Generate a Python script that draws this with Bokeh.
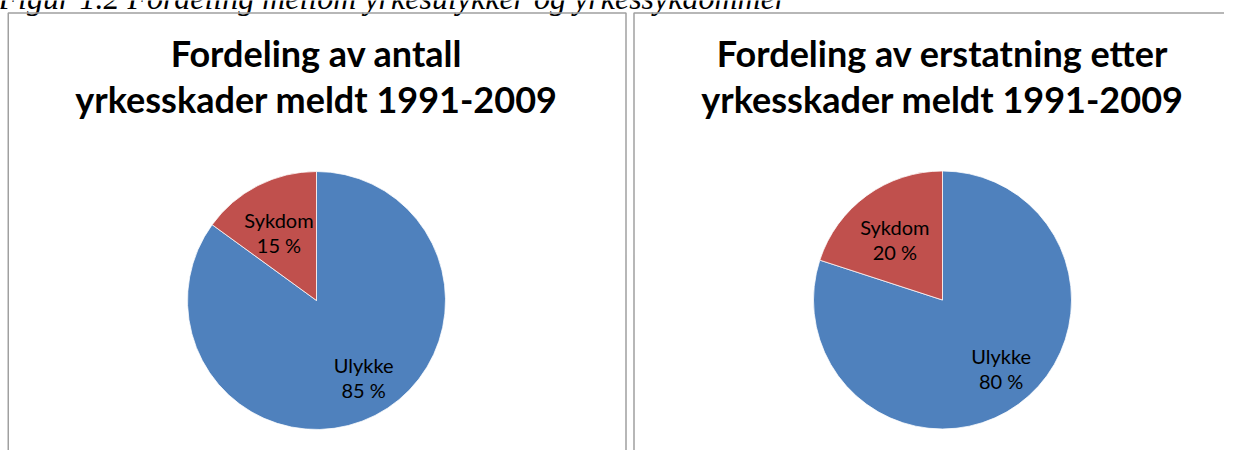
import math
from bokeh.plotting import figure
from bokeh.models import Range1d, ColumnDataSource
from bokeh.core.properties import value
from bokeh.embed import file_html
from bokeh.resources import INLINE

# ---------------- data ----------------
categories = ["Ulykke", "Sykdom"]
antall_pct = [85, 15]          # Fordeling av antall yrkesskader
erstatning_pct = [80, 20]      # Fordeling av erstatning
colors = ["#4F81BD", "#C0504D"]
title_left = ["Fordeling av antall", "yrkesskader meldt 1991-2009"]
title_right = ["Fordeling av erstatning etter", "yrkesskader meldt 1991-2009"]
caption = "Figur 1.2 Fordeling mellom yrkesulykker og yrkessykdommer"

# ---------------- layout (reference pixel coordinates) ----------------
W, H = 1240, 466
def Y(ref_y):
    return H - ref_y

p = figure(width=1224, height=450, output_backend="svg", toolbar_location=None,
           x_range=Range1d(0, 1224), y_range=Range1d(H - 450, H),
           x_axis_type=None, y_axis_type=None, min_border=0,
           outline_line_color=None, background_fill_color="white",
           border_fill_color="white")
p.grid.visible = False

# caption (cut at top, as in the reference)
p.text(x=[-2], y=[Y(-3)], text=[caption], text_font=value("Liberation Serif"),
       text_font_style="italic", text_font_size="32px", text_color="black",
       text_baseline="middle", text_align="left")

# panel borders
border_col = "#A0A0A0"
p.line(x=[7.75, 7.75, 625.5, 625.5], y=[0, Y(12.5), Y(12.5), 0],
       line_color=border_col, line_width=1.5)
p.line(x=[633.5, 633.5, 1240], y=[0, Y(12.5), Y(12.5)],
       line_color=border_col, line_width=1.5)

R = 129
panels = [
    dict(cx=316, cy=Y(300), vals=antall_pct, title=title_left),
    dict(cx=942, cy=Y(299.5), vals=erstatning_pct, title=title_right),
]
label_r = {"Ulykke": 0.70, "Sykdom": 0.60}
label_turn = {"Ulykke": math.radians(4.5), "Sykdom": math.radians(2)}

for pan in panels:
    vals = pan["vals"]
    tot = float(sum(vals))
    starts, ends, mids = [], [], []
    cum = 0.0
    for v in vals:
        a0 = math.pi / 2 - 2 * math.pi * cum / tot
        cum += v
        a1 = math.pi / 2 - 2 * math.pi * cum / tot
        starts.append(a0); ends.append(a1); mids.append((a0 + a1) / 2)
    src = ColumnDataSource(dict(x=[pan["cx"]] * len(vals), y=[pan["cy"]] * len(vals),
                                start=starts, end=ends, color=colors, cat=categories))
    p.wedge(x="x", y="y", radius=R, radius_units="screen", start_angle="start",
            end_angle="end", direction="clock", fill_color="color",
            line_color="white", line_width=0.75, source=src)

    # labels
    lx, ly, names, pcts = [], [], [], []
    for cat, v, m in zip(categories, vals, mids):
        r = label_r[cat] * R
        a = m + label_turn[cat]
        lx.append(pan["cx"] + r * math.cos(a))
        ly.append(pan["cy"] + r * math.sin(a))
        names.append(cat)
        pcts.append(f"{v} %")
    p.text(x=lx, y=[y + 12.5 for y in ly], text=names, text_font=value("Lato"),
           text_font_size="20px", text_color="black", text_align="center",
           text_baseline="middle")
    p.text(x=lx, y=[y - 12.5 for y in ly], text=pcts, text_font=value("Lato"),
           text_font_size="20px", text_color="black", text_align="center",
           text_baseline="middle")

    # title
    p.text(x=[pan["cx"], pan["cx"]], y=[Y(52), Y(98)], text=pan["title"],
           text_font=value("Lato"), text_font_style="bold", text_font_size="36px",
           text_color="black", text_align="center", text_baseline="middle")

open("out.html", "w").write(file_html(p, INLINE))
